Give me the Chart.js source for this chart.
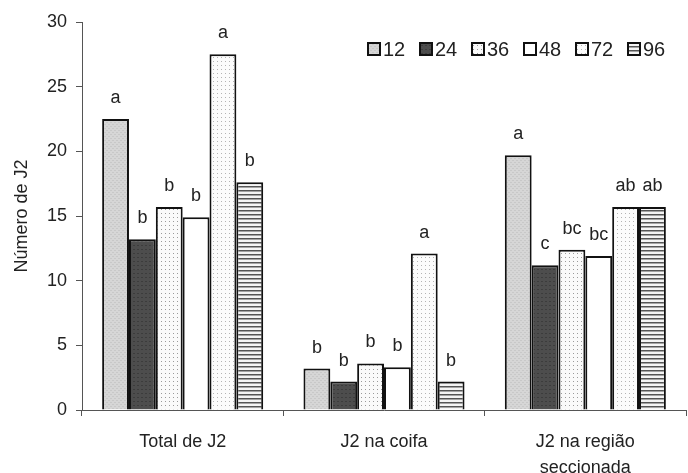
<!DOCTYPE html>
<html>
<head>
<meta charset="utf-8">
<script src="https://cdn.jsdelivr.net/npm/chart.js@4"></script>
<style>
  body { margin: 0; background: #fff; }
  #wrap { width: 688px; height: 473px; }
</style>
</head>
<body>
<div id="wrap"><canvas id="chart" width="688" height="473"></canvas></div>
<script>
// categories and values
const categories = ['Total de J2', 'J2 na coifa', ['J2 na região', 'seccionada']];
const seriesNames = ['12', '24', '36', '48', '72', '96'];
const h12 = [22.5, 3.2, 19.7];
const h24 = [13.2, 2.2, 11.2];
const h36 = [15.7, 3.6, 12.4];
const h48 = [14.9, 3.3, 11.9];
const h72 = [27.5, 12.1, 15.7];
const h96 = [17.6, 2.2, 15.7];
// letters of the means test, one per bar
const l12 = ['a', 'b', 'a'];
const l24 = ['b', 'b', 'c'];
const l36 = ['b', 'b', 'bc'];
const l48 = ['b', 'b', 'bc'];
const l72 = ['a', 'a', 'ab'];
const l96 = ['b', 'b', 'ab'];

const values = [h12, h24, h36, h48, h72, h96];
const letters = [l12, l24, l36, l48, l72, l96];

const FONT = '"Liberation Sans", Arial, sans-serif';

// little fill patterns like the scanned figure
function makePattern(w, h, draw) {
    const c = document.createElement('canvas');
    c.width = w; c.height = h;
    const g = c.getContext('2d');
    draw(g);
    return g.createPattern(c, 'repeat');
}
const ctx = document.getElementById('chart').getContext('2d');
const fills = [
    makePattern(4, 4, function(g) {
        g.fillStyle = '#d6d6d6'; g.fillRect(0, 0, 4, 4);
        g.fillStyle = '#c8c8c8'; g.fillRect(0, 0, 2, 1); g.fillRect(2, 2, 2, 1);
    }),
    makePattern(4, 4, function(g) {
        g.fillStyle = '#4d4d4d'; g.fillRect(0, 0, 4, 4);
        g.fillStyle = '#3c3c3c'; g.fillRect(1, 1, 2, 1);
    }),
    makePattern(4, 4, function(g) {
        g.fillStyle = '#fafafa'; g.fillRect(0, 0, 4, 4);
        g.fillStyle = '#9a9a9a'; g.fillRect(1, 1, 1, 1);
    }),
    '#ffffff',
    makePattern(4, 4, function(g) {
        g.fillStyle = '#fcfcfc'; g.fillRect(0, 0, 4, 4);
        g.fillStyle = '#b4b4b4'; g.fillRect(1, 1, 1, 1);
    }),
    makePattern(4, 4, function(g) {
        g.fillStyle = '#f4f4f4'; g.fillRect(0, 0, 4, 4);
        g.fillStyle = '#555555'; g.fillRect(0, 2, 4, 1.5);
    })
];

const datasets = values.map(function(v, i) {
    return {
        label: seriesNames[i],
        data: v,
        backgroundColor: fills[i],
        borderColor: '#111',
        borderWidth: 2,
        borderSkipped: 'bottom'
    };
});

// draws the letter above each bar
const letterPlugin = {
    id: 'letters',
    afterDatasetsDraw(chart) {
        const c = chart.ctx;
        c.save();
        c.font = '18px ' + FONT;
        c.fillStyle = '#222';
        c.textAlign = 'center';
        c.textBaseline = 'alphabetic';
        chart.data.datasets.forEach(function(ds, i) {
            chart.getDatasetMeta(i).data.forEach(function(bar, j) {
                c.fillText(letters[i][j], bar.x, bar.y - 16);
            });
        });
        c.restore();
    }
};

// legend in one row inside the plot, top right
const rowLegend = {
    id: 'rowLegend',
    afterDraw(chart) {
        const c = chart.ctx;
        const area = chart.chartArea;
        const box = 12, gap = 3, stride = 52;
        const n = chart.data.datasets.length;
        let x = area.right - 21 - (n - 1) * stride - box - gap - 22;
        const cy = area.top + 27;
        c.save();
        c.font = '20px ' + FONT;
        c.textBaseline = 'middle';
        c.textAlign = 'left';
        chart.data.datasets.forEach(function(ds) {
            c.fillStyle = ds.backgroundColor;
            c.fillRect(x, cy - box / 2, box, box);
            c.lineWidth = 2;
            c.strokeStyle = '#111';
            c.strokeRect(x, cy - box / 2, box, box);
            c.fillStyle = '#222';
            c.fillText(ds.label, x + box + gap, cy + 1);
            x += stride;
        });
        c.restore();
    }
};

Chart.defaults.font.family = FONT;
Chart.defaults.color = '#222';

new Chart(ctx, {
    type: 'bar',
    data: { labels: categories, datasets: datasets },
    plugins: [letterPlugin, rowLegend],
    options: {
        responsive: false,
        animation: false,
        layout: { padding: { top: 22, right: 2, left: 0, bottom: 0 } },
        categoryPercentage: 0.8,
        barPercentage: 1.0,
        plugins: {
            tooltip: { enabled: false },
            legend: { display: false }
        },
        scales: {
            x: {
                afterFit: function(s) { s.height = 63; },
                grid: { offset: true, drawOnChartArea: false, tickLength: 6, color: '#555' },
                border: { color: '#555', width: 1 },
                ticks: { font: { size: 18, lineHeight: 1.45 }, padding: 13, maxRotation: 0 }
            },
            y: {
                min: 0,
                max: 30,
                afterFit: function(s) { s.width = 82; },
                ticks: { stepSize: 5, font: { size: 18 }, padding: 9 },
                grid: { drawOnChartArea: false, tickLength: 6, color: '#555' },
                border: { color: '#555', width: 1 },
                title: { display: true, text: 'Número de J2', font: { size: 18 }, padding: { top: 11, bottom: 0 } }
            }
        }
    }
});
</script>
</body>
</html>
